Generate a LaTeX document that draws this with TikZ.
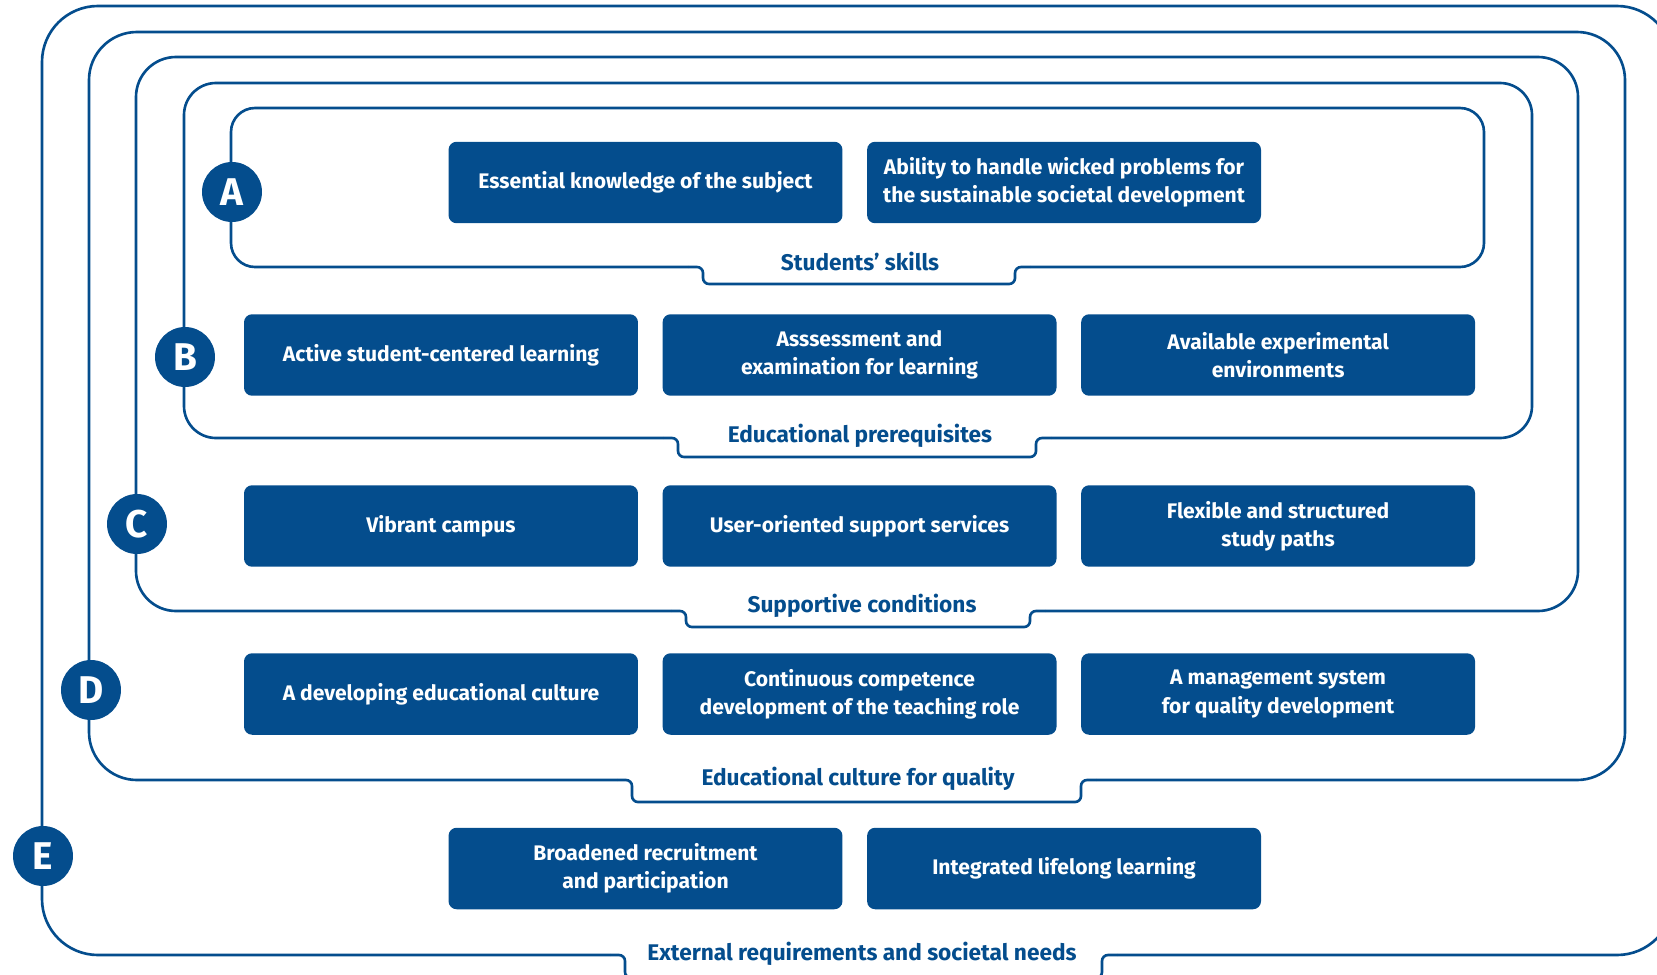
\documentclass[tikz,border=0pt]{standalone}
\usepackage{fontspec}
\setmainfont{Fira Sans}
\usetikzlibrary{positioning}
\definecolor{DeepBlue}{RGB}{4,77,141}

\begin{document}
\begin{tikzpicture}[x=0.02cm, y=-0.02cm,
		line width=1.5pt,
		node distance=0.44cm,
		skillbox/.style={fill=DeepBlue, text=white, rounded corners=0.16cm, inner sep=0pt,
			minimum width=7.88cm, minimum height=1.63cm, align=center,
			font=\bfseries\fontsize{12}{16}\selectfont},
		badge/.style={circle, fill=DeepBlue, text=white, minimum size=1.2cm, inner sep=0pt,
			font=\bfseries\fontsize{22}{22}\selectfont},
		ring/.style={draw=DeepBlue, rounded corners=#1},
		tabline/.style={draw=DeepBlue, rounded corners=0.12cm},
		ringlabel/.style={text=DeepBlue, anchor=base, inner sep=0pt,
			font=\bfseries\fontsize{12.9}{13}\selectfont}]

	\useasboundingbox (0,0) rectangle (1657,974);

	% frames, from outside in
	\draw[ring=1.12cm] (1117,955) -- (1673,955) -- (1673,6) -- (42,6) -- (42,955) -- (610,955);
	\draw[tabline] (610,955) -- (625,955) -- (625,978) -- (1102,978) -- (1102,955) -- (1117,955);
	\draw[ring=0.96cm] (1096,780) -- (1625,780) -- (1625,32) -- (89,32) -- (89,780) -- (617,780);
	\draw[tabline] (617,780) -- (632,780) -- (632,802) -- (1081,802) -- (1081,780) -- (1096,780);
	\draw[ring=0.8cm] (1045,611) -- (1578,611) -- (1578,57) -- (136,57) -- (136,611) -- (671,611);
	\draw[tabline] (671,611) -- (686,611) -- (686,627) -- (1030,627) -- (1030,611) -- (1045,611);
	\draw[ring=0.64cm] (1051,438) -- (1532,438) -- (1532,83) -- (184,83) -- (184,438) -- (663,438);
	\draw[tabline] (663,438) -- (678,438) -- (678,457) -- (1036,457) -- (1036,438) -- (1051,438);
	\draw[ring=0.48cm] (1030,267) -- (1484,267) -- (1484,108) -- (231,108) -- (231,267) -- (688,267);
	\draw[tabline] (688,267) -- (703,267) -- (703,284) -- (1015,284) -- (1015,267) -- (1030,267);

	% frame captions
	\node[ringlabel] (skills) at (860,270) {Students’ skills};
	\node[ringlabel] (prereq) at (860,442) {Educational prerequisites};
	\node[ringlabel] (support) at (862,612) {Supportive conditions};
	\node[ringlabel] (culture) at (858,785) {Educational culture for quality};
	\node[ringlabel] (external) at (862,960) {External requirements and societal needs};

	% letters
	\node[badge] (badgeA) at (232,192) {A};
	\node[badge] (badgeB) at (185,357) {B};
	\node[badge] (badgeC) at (137,524) {C};
	\node[badge] (badgeD) at (91,690) {D};
	\node[badge] (badgeE) at (43,856) {E};

	% A
	\node[skillbox] (knowledge) at (645.5,182.5) {Essential knowledge of the subject};
	\node[skillbox, right=of knowledge] (wicked) {Ability to handle wicked problems for\\the sustainable societal development};
	% B
	\node[skillbox] (active) at (441,355) {Active student-centered learning};
	\node[skillbox, right=of active] (assess) {Asssessment and\\examination for learning};
	\node[skillbox, right=of assess] (experiment) {Available experimental\\environments};
	% C
	\node[skillbox] (campus) at (441,526) {Vibrant campus};
	\node[skillbox, right=of campus] (services) {User-oriented support services};
	\node[skillbox, right=of services] (paths) {Flexible and structured\\study paths};
	% D
	\node[skillbox] (devculture) at (441,694) {A developing educational culture};
	\node[skillbox, right=of devculture] (teaching) {Continuous competence\\development of the teaching role};
	\node[skillbox, right=of teaching] (management) {A management system\\for quality development};
	% E
	\node[skillbox] (recruit) at (645.5,868.5) {Broadened recruitment\\and participation};
	\node[skillbox, right=of recruit] (lifelong) {Integrated lifelong learning};

\end{tikzpicture}
\end{document}
